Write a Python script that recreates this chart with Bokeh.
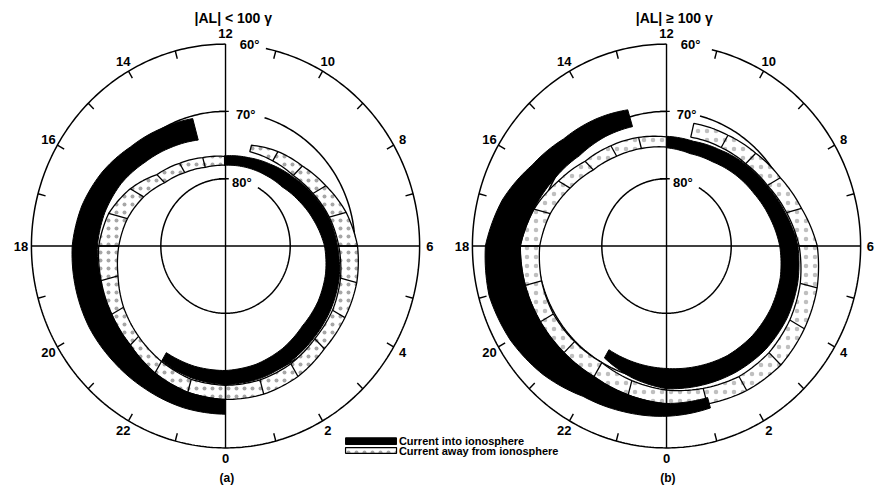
import numpy as np
from bokeh.plotting import figure
from bokeh.models import Range1d
from bokeh.embed import file_html
from bokeh.resources import INLINE
from bokeh.core.properties import value

# ---------------------------------------------------------------------------
# Data: magnetic local time (hours) and distance from the magnetic pole
# (degrees, i.e. 90 - invariant latitude) of the poleward / equatorward edges
# ---------------------------------------------------------------------------
# Panel (a)  |AL| < 100 gamma
a_into_dawn_mlt = [12.05, 11, 10, 9, 8, 7, 6, 5, 4, 3, 2, 1, 0, 23, 22.0]
a_into_dawn_pole = [12.0, 12.1, 12.2, 12.4, 13.2, 14.2, 15.3, 16.0, 16.5, 16.8, 17.6, 18.2, 18.5, 18.5, 18.3]
a_into_dawn_equ = [13.4, 13.6, 14.0, 14.6, 15.5, 16.5, 17.3, 18.2, 18.8, 19.3, 19.9, 20.4, 20.6, 20.3, 19.7]

a_into_dusk_mlt = [13.0, 14, 15, 16, 17, 18, 19, 20, 21, 22, 23, 24.0]
a_into_dusk_pole = [16.3, 16.9, 17.6, 18.6, 19.3, 19.8, 20.0, 20.3, 20.8, 21.8, 22.5, 22.8]
a_into_dusk_equ = [19.6, 20.1, 20.8, 22.0, 23.0, 23.7, 24.0, 24.3, 24.4, 24.6, 24.9, 25.0]

a_away_mlt = [11.0, 10, 9, 8, 7, 6, 5, 4, 3, 2, 1, 0, 23, 22, 21, 20, 19, 18, 17, 16, 15, 14, 13, 12.0]
a_away_pole = [14.5, 14.6, 14.8, 15.6, 16.6, 17.5, 18.4, 19.1, 19.5, 20.2, 20.6, 20.7,
               20.5, 19.8, 19.0, 18.2, 17.2, 16.5, 15.7, 14.6, 13.3, 12.6, 12.1, 12.0]
a_away_equ = [15.5, 16.2, 16.8, 17.9, 19.3, 20.4, 21.0, 21.3, 21.6, 22.4, 22.8, 22.8,
              22.5, 21.8, 20.8, 20.3, 19.9, 19.6, 18.7, 17.0, 15.0, 14.2, 13.6, 13.3]

# Panel (b)  |AL| >= 100 gamma
b_into_dawn_mlt = [12.0, 11, 10, 9, 8, 7, 6, 5, 4, 3, 2, 1, 0, 23, 22.0]
b_into_dawn_pole = [14.6, 14.2, 14.4, 15.0, 15.6, 16.5, 17.5, 18.2, 18.6, 18.8, 18.8, 18.5, 18.2, 18.0, 17.8]
b_into_dawn_equ = [16.3, 16.1, 16.5, 17.2, 17.9, 19.0, 20.3, 21.0, 21.5, 21.7, 21.6, 21.4, 21.2, 20.3, 19.2]

b_into_dusk_mlt = [13.1, 14, 15, 16, 17, 18, 19, 20, 21, 22, 23, 24, 25.05]
b_into_dusk_pole = [18.5, 18.8, 19.0, 20.0, 21.2, 22.6, 22.6, 22.5, 22.4, 22.4, 22.9, 23.4, 23.4]
b_into_dusk_equ = [21.1, 21.8, 22.5, 24.0, 26.3, 28.0, 28.4, 27.9, 27.0, 25.8, 25.5, 25.3, 25.0]

b_away_mlt = [11.13, 10, 9, 8, 7, 6, 5, 4, 3, 2, 1, 0, 23, 22, 21, 20, 19, 18, 17, 16, 15, 14, 13, 12.0]
b_away_pole = [16.6, 16.9, 17.3, 18.0, 19.2, 20.5, 21.4, 22.0, 22.4, 22.4, 21.9, 21.4,
               20.7, 20.0, 20.1, 20.2, 20.0, 19.6, 18.6, 17.2, 16.0, 15.4, 15.0, 14.7]
b_away_equ = [18.7, 19.0, 19.5, 20.3, 21.6, 23.3, 24.1, 24.6, 25.0, 24.8, 24.3, 23.5,
              22.9, 22.4, 22.4, 22.5, 22.6, 22.6, 21.2, 19.3, 17.8, 17.2, 16.7, 16.2]

hour_ticks = list(range(24))
hour_labels = ["0", "2", "4", "6", "8", "10", "12", "14", "16", "18", "20", "22"]
hour_label_pos = [0, 2, 4, 6, 8, 10, 12, 14, 16, 18, 20, 22]
lat_circles = [30, 20, 10]          # 60, 70, 80 degrees latitude
lat_labels = ["60°", "70°", "80°"]
titles = ["|AL| < 100 γ", "|AL| ≥ 100 γ"]
panel_tags = ["(a)", "(b)"]
legend_labels = ["Current into ionosphere", "Current away from ionosphere"]

# ---------------------------------------------------------------------------
FONT = value("Liberation Sans")
CX = [0.0, 68.16]                    # panel centres (x, data units)
XMIN, XMAX = -34.78, 100.46
YMIN, YMAX = -36.48, 36.48

p = figure(width=875, height=491, x_range=Range1d(XMIN, XMAX),
           y_range=Range1d(YMIN, YMAX), output_backend="svg",
           toolbar_location=None, x_axis_type=None, y_axis_type=None,
           min_border=0, outline_line_color=None)
p.background_fill_color = "white"


def theta(mlt):
    return np.unwrap(np.radians((np.asarray(mlt, float) - 6.0) * 15.0))


def arc(cx, r, h0, h1, n=300):
    t = np.linspace(np.radians((h0 - 6) * 15), np.radians((h1 - 6) * 15), n)
    return cx + r * np.cos(t), r * np.sin(t)


def band(cx, mlt, r_in, r_out, n=10):
    th = theta(mlt)
    ri = np.asarray(r_in, float)
    ro = np.asarray(r_out, float)
    tt, ii, oo = [], [], []
    for k in range(len(th) - 1):
        f = np.linspace(0, 1, n, endpoint=False)
        tt.append(th[k] + f * (th[k + 1] - th[k]))
        ii.append(ri[k] + f * (ri[k + 1] - ri[k]))
        oo.append(ro[k] + f * (ro[k + 1] - ro[k]))
    tt = np.concatenate(tt + [[th[-1]]])
    ii = np.concatenate(ii + [[ri[-1]]])
    oo = np.concatenate(oo + [[ro[-1]]])
    xs = np.concatenate([cx + oo * np.cos(tt), (cx + ii * np.cos(tt))[::-1]])
    ys = np.concatenate([oo * np.sin(tt), (ii * np.sin(tt))[::-1]])
    return list(xs), list(ys)


panels = [
    dict(cx=CX[0], dawn=(a_into_dawn_mlt, a_into_dawn_pole, a_into_dawn_equ),
         dusk=(a_into_dusk_mlt, a_into_dusk_pole, a_into_dusk_equ),
         away=(a_away_mlt, a_away_pole, a_away_equ),
         gaps=[11.2, 10.83, 10.0],
         dots=dict(hatch_scale=8, hatch_alpha=0.35, hatch_weight=1.1)),
    dict(cx=CX[1], dawn=(b_into_dawn_mlt, b_into_dawn_pole, b_into_dawn_equ),
         dusk=(b_into_dusk_mlt, b_into_dusk_pole, b_into_dusk_equ),
         away=(b_away_mlt, b_away_pole, b_away_equ),
         gaps=[11.1, 11.0, 10.0],
         dots=dict(hatch_scale=9, hatch_alpha=0.25, hatch_weight=0.8)),
]

LW = 1.5
LAB_R = 31.6
for k, pan in enumerate(panels):
    cx = pan["cx"]
    # 70 deg circle (under the current bands), open where its label sits
    g = pan["gaps"][1]
    x, y = arc(cx, lat_circles[1], 12.0, g + 24)
    p.line(x, y, line_color="black", line_width=LW)

    # current away from the ionosphere (stippled)
    bx, by = band(cx, *pan["away"])
    p.patch(bx, by, fill_color="white", line_color="black", line_width=1.3,
            hatch_pattern="dot", hatch_color="black", **pan["dots"])
    m, ri, ro = pan["away"]
    th = theta(m)
    for j in range(1, len(m) - 1):
        if float(m[j]).is_integer():
            p.line([cx + ri[j] * np.cos(th[j]), cx + ro[j] * np.cos(th[j])],
                   [ri[j] * np.sin(th[j]), ro[j] * np.sin(th[j])],
                   line_color="black", line_width=1.3)
    # current into the ionosphere (black)
    for key in ("dawn", "dusk"):
        bx, by = band(cx, *pan[key])
        p.patch(bx, by, fill_color="black", line_color="black", line_width=1)

    # 60 and 80 deg circles
    for ci in (0, 2):
        g = pan["gaps"][ci]
        x, y = arc(cx, lat_circles[ci], 12.0, g + 24, 400)
        p.line(x, y, line_color="black", line_width=LW)

    # noon-midnight and dawn-dusk lines
    p.line([cx, cx], [-30, 30], line_color="black", line_width=1.4)
    p.line([cx - 30, cx + 30], [0, 0], line_color="black", line_width=1.4)
    for r in (20, 10):
        p.line([cx - 1.0, cx + 0.5], [r, r], line_color="black", line_width=1.4)

    # hour ticks on the 60 deg circle
    for h in hour_ticks:
        if h % 6 == 0:
            continue
        t = np.radians((h - 6) * 15)
        p.line([cx + 30 * np.cos(t), cx + 28.8 * np.cos(t)],
               [30 * np.sin(t), 28.8 * np.sin(t)], line_color="black", line_width=1.4)

    # hour labels (kept inside the picture)
    tl = np.radians((np.array(hour_label_pos) - 6) * 15)
    lx = np.clip(cx + LAB_R * np.cos(tl), XMIN + 1.2, XMAX - 0.8)
    p.text(x=list(lx), y=list(LAB_R * np.sin(tl)), text=hour_labels,
           text_font=FONT, text_font_style="bold", text_font_size="13px",
           text_align="center", text_baseline="middle", text_color="black")
    # latitude labels
    p.text(x=[cx + 2.2, cx + 1.6, cx + 1.0], y=[30.0, 19.5, 9.5], text=lat_labels,
           text_font=FONT, text_font_style="bold", text_font_size="13px",
           text_align="left", text_baseline="middle", text_color="black")
    # title and tag
    p.text(x=[cx + 1.2], y=[33.9], text=[titles[k]], text_font=FONT,
           text_font_style="bold", text_font_size="14px", text_align="center",
           text_baseline="middle", text_color="black")
    p.text(x=[cx + 0.2], y=[-34.5], text=[panel_tags[k]], text_font=FONT,
           text_font_style="bold", text_font_size="12px", text_align="center",
           text_baseline="middle", text_color="black")

# legend
p.quad(left=[18.55], right=[26.43], top=[-28.5], bottom=[-29.5], fill_color="black",
       line_color="black")
p.quad(left=[18.55], right=[26.43], top=[-29.95], bottom=[-30.8], fill_color="white",
       line_color="black", line_width=1.2, hatch_pattern="dot", hatch_color="black",
       hatch_scale=8, hatch_weight=1.1, hatch_alpha=0.35)
p.text(x=[26.8, 26.8], y=[-28.95, -30.4], text=legend_labels, text_font=FONT,
       text_font_style="bold", text_font_size="11px", text_align="left",
       text_baseline="middle", text_color="black")

open("out.html", "w").write(file_html(p, INLINE))
